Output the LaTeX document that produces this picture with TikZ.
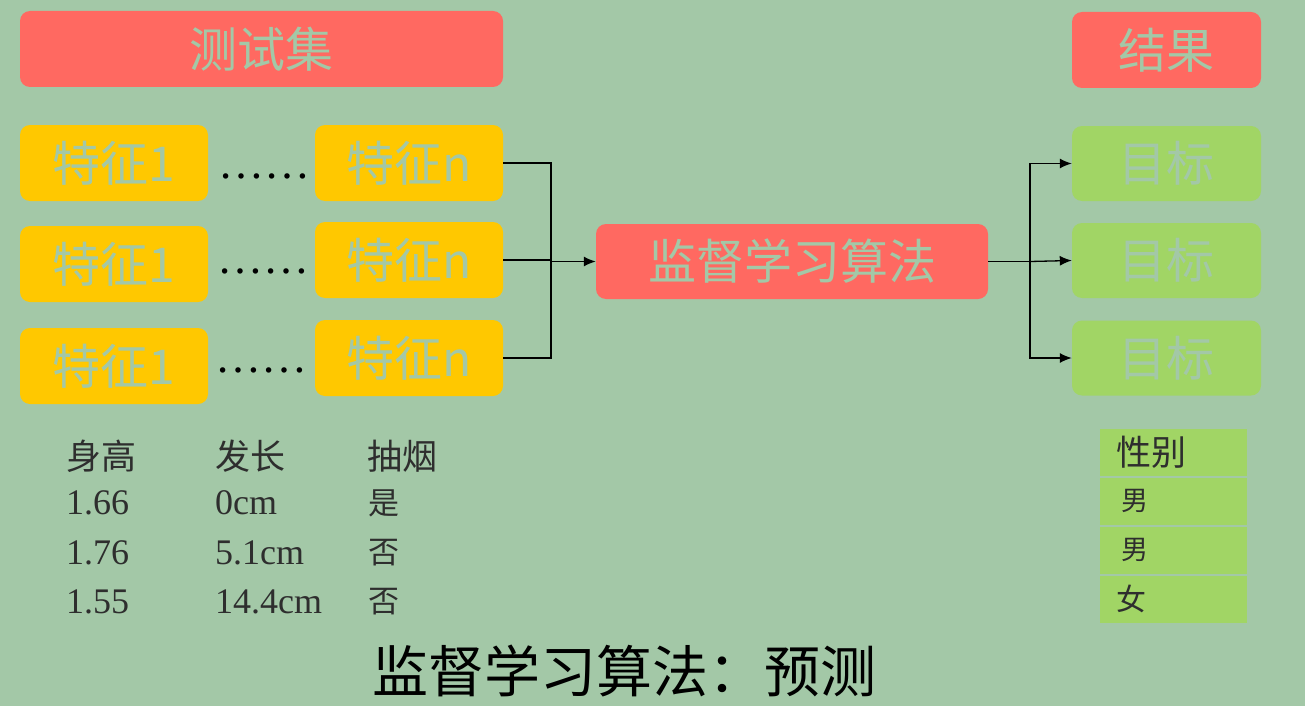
\documentclass[tikz,border=0pt]{standalone}
\usepackage{fontspec}
\setmainfont{Liberation Serif}
\newfontfamily\cjk{Noto Sans CJK SC}
\usepackage{tikz}
\usetikzlibrary{arrows.meta}

\definecolor{bggreen}{HTML}{A3C8A7}
\definecolor{boxred}{HTML}{FF6961}
\definecolor{boxyellow}{HTML}{FFC800}
\definecolor{boxgreen}{HTML}{A1D565}
\definecolor{inkgray}{HTML}{2E2E2E}

\tikzset{
  box/.style={rounded corners=10pt, inner sep=0pt, minimum height=76pt,
    text=bggreen, font=\cjk\fontsize{48}{48}\selectfont},
  redbox/.style={box, fill=boxred},
  featbox/.style={box, fill=boxyellow, minimum width=188pt},
  goalbox/.style={box, fill=boxgreen, minimum width=189pt},
  dotsnode/.style={inner sep=0pt, font=\fontsize{46}{46}\selectfont},
  tabhead/.style={anchor=west, inner sep=0pt, text=inkgray, font=\cjk\fontsize{35}{35}\selectfont},
  tabcell/.style={anchor=west, inner sep=0pt, text=inkgray, font=\fontsize{36}{36}\selectfont},
  tabmark/.style={anchor=west, inner sep=0pt, text=inkgray, font=\cjk\fontsize{31}{31}\selectfont},
  gencell/.style={fill=boxgreen, minimum height=47pt, text width=111pt, inner xsep=18pt,
    inner ysep=0pt, align=left, text=inkgray},
  conn/.style={line width=1.3pt},
  arr/.style={conn, -{Latex[length=12pt,width=10pt]}}
}

\begin{document}
\begin{tikzpicture}[x=1pt,y=-1pt]

    % Background
    \fill[bggreen] (0,0) rectangle (1305,706);
    \useasboundingbox (0,0) rectangle (1305,706);

    % Headers
    \node[redbox, minimum width=483pt] (test) at (261.5,49) {测试集};
    \node[redbox, minimum width=189pt] (result) at (1166.5,50) {结果};

    % Features
    \node[featbox] (fa1) at (114,163) {特征1};
    \node[featbox] (fa2) at (114,264) {特征1};
    \node[featbox] (fa3) at (114,366) {特征1};
    \node[featbox] (fn1) at (409,163) {特征n};
    \node[featbox] (fn2) at (409,260) {特征n};
    \node[featbox] (fn3) at (409,358) {特征n};
    \node[dotsnode] (dots1) at (264,176) {\ldots\ldots};
    \node[dotsnode] (dots2) at (263,271) {\ldots\ldots};
    \node[dotsnode] (dots3) at (261,370) {\ldots\ldots};

    % Algorithm and targets
    \node[redbox, minimum width=392pt, minimum height=75pt] (algo) at (792,261.5) {监督学习算法};
    \node[goalbox, minimum height=75pt] (goal1) at (1166.5,163.5) {目标};
    \node[goalbox, minimum height=75pt] (goal2) at (1166.5,260.5) {目标};
    \node[goalbox, minimum height=75pt] (goal3) at (1166.5,358) {目标};

    % Connectors
    \coordinate (joinl) at (551,261.5);
    \coordinate (joinr) at (1030,261.5);
    \draw[conn] (fn1.east) -| (joinl);
    \draw[conn] (fn3.east) -| (joinl);
    \draw[conn] (fn2.east) -- (fn2.east -| joinl);
    \draw[arr] (joinl) -- (algo.west);
    \draw[conn] (algo.east) -- (joinr);
    \draw[arr] (joinr) |- (goal1.west);
    \draw[arr] (joinr) -- (goal2.west);
    \draw[arr] (joinr) |- (goal3.west);

    % Sample table
    \node[tabhead] (hheight) at (66,456) {身高};
    \node[tabhead] (hhair) at (215,456) {发长};
    \node[tabhead] (hsmoke) at (367,456) {抽烟};
    \node[tabcell] (h1) at (66,503) {1.66};
    \node[tabcell] (h2) at (66,553) {1.76};
    \node[tabcell] (h3) at (66,602) {1.55};
    \node[tabcell] (l1) at (215,503) {0cm};
    \node[tabcell] (l2) at (215,553) {5.1cm};
    \node[tabcell] (l3) at (215,602) {14.4cm};
    \node[tabmark] (s1) at (368,503) {是};
    \node[tabmark] (s2) at (368,553) {否};
    \node[tabmark] (s3) at (368,602) {否};

    % Gender column
    \node[gencell, inner xsep=16pt, text width=115pt, font=\cjk\fontsize{35}{35}\selectfont] (gh) at (1173.5,452) {性别};
    \node[gencell, inner xsep=21pt, text width=105pt, font=\cjk\fontsize{27}{27}\selectfont] (g1) at (1173.5,501) {男};
    \node[gencell, inner xsep=21pt, text width=105pt, font=\cjk\fontsize{27}{27}\selectfont] (g2) at (1173.5,550) {男};
    \node[gencell, inner xsep=16pt, text width=115pt, font=\cjk\fontsize{30}{30}\selectfont] (g3) at (1173.5,599) {女};

    % Title
    \node[inner sep=0pt, font=\cjk\fontsize{56}{56}\selectfont] (title) at (624,671) {监督学习算法：预测};
\end{tikzpicture}
\end{document}
